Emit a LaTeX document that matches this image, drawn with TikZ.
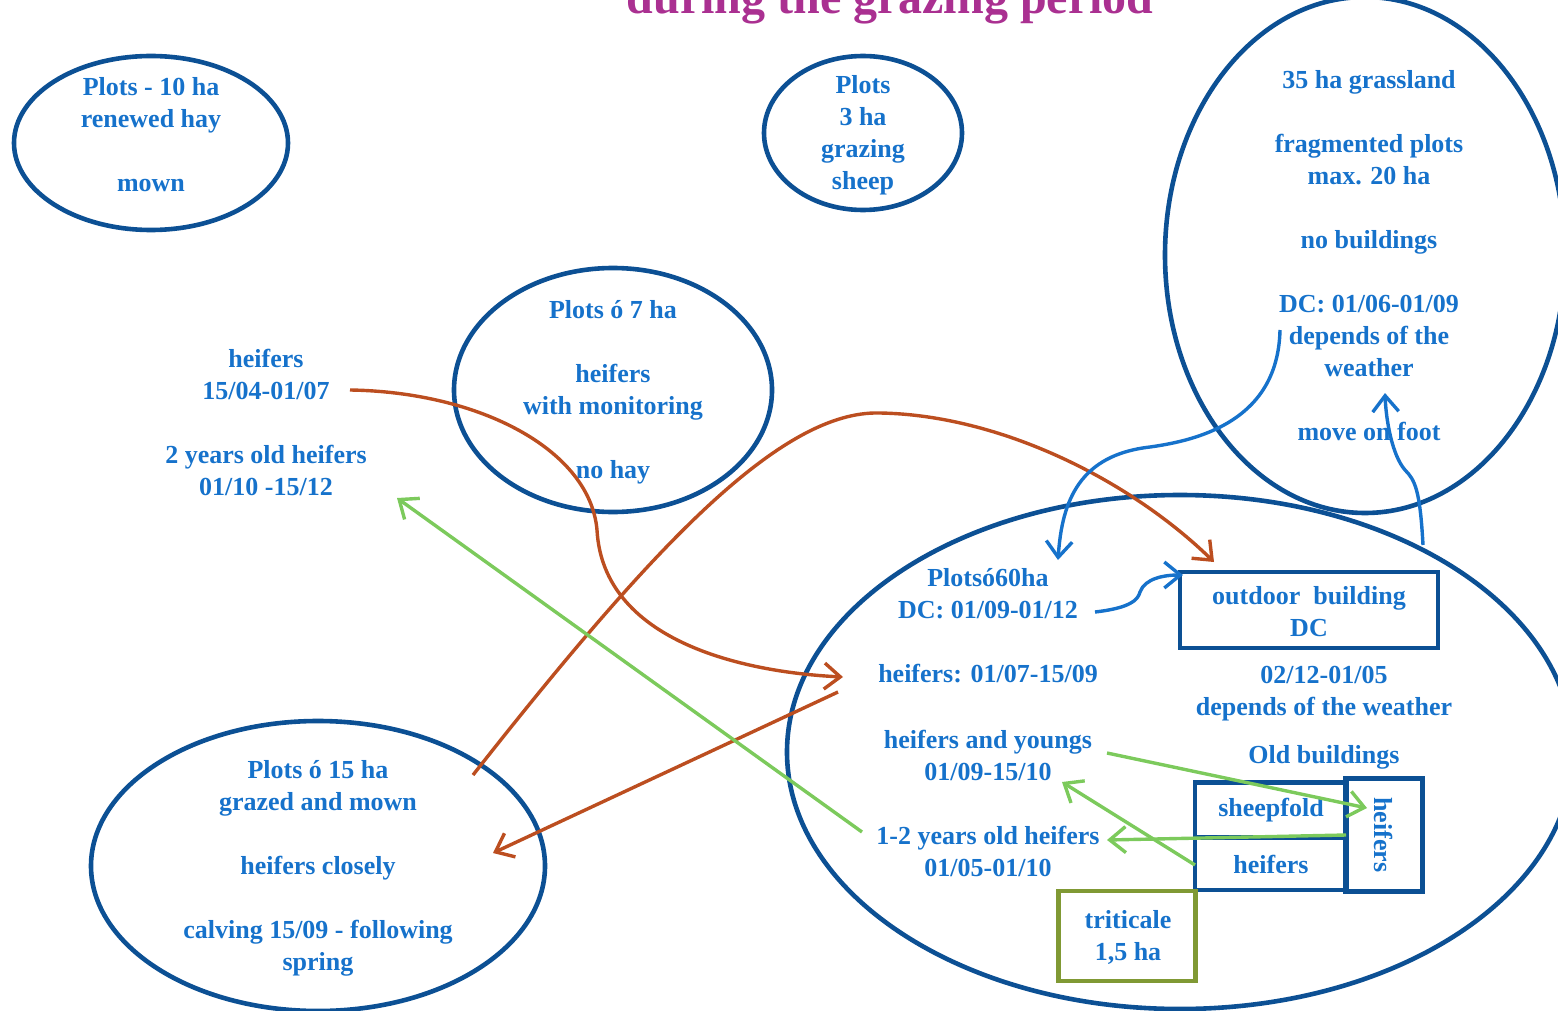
\documentclass[tikz,border=0pt]{standalone}
\usepackage{fontspec}
\setmainfont{Liberation Serif}
\usetikzlibrary{shapes.geometric,arrows.meta}
\definecolor{txtblue}{RGB}{22,114,203}
\definecolor{rimblue}{RGB}{12,80,148}
\definecolor{titlemag}{RGB}{170,48,145}
\definecolor{rust}{RGB}{188,78,32}
\definecolor{leaf}{RGB}{124,202,92}
\definecolor{olive}{RGB}{128,153,52}
\tikzstyle{plot} = [ellipse, draw=rimblue, line width=4.6pt, inner sep=0pt]
\tikzstyle{txt} = [text=txtblue, font=\fontsize{26}{32}\selectfont\bfseries, align=center, inner sep=0pt]
\tikzstyle{shed} = [rectangle, draw=rimblue, line width=4.6pt, inner sep=0pt]
\tikzstyle{line} = [draw, line width=3.4pt, -{Straight Barb[length=16pt,width=26pt]}]

\begin{document}
\begin{tikzpicture}[x=1pt, y=-1pt]
		\useasboundingbox (0,0) rectangle (1558,1011);
		\node [anchor=base, text=titlemag, font=\fontsize{48}{56}\selectfont\bfseries] (title) at (890,14) {during the grazing period};
		% plots
		\node [plot, minimum width=274pt, minimum height=174pt] (mown) at (151,143) {};
		\node [txt] (mowntxt) at (151,135) {Plots - 10 ha\\renewed hay\\[32pt]mown};
		\node [plot, minimum width=198pt, minimum height=154pt] (sheep) at (863,133) {};
		\node [txt] (sheeptxt) at (863,135) {Plots\\3 ha\\grazing\\sheep};
		\node [plot, minimum width=400pt, minimum height=516pt] (grass) at (1365,255) {};
		\node [txt] (grasstxt) at (1369,256) {35 ha grassland\\[32pt]fragmented plots\\max. 20 ha\\[32pt]no buildings\\[32pt]DC: 01/06-01/09\\depends of the\\weather\\[32pt]move on foot};
		\node [plot, minimum width=318pt, minimum height=244pt] (seven) at (613,390) {};
		\node [txt] (seventxt) at (613,392) {Plots ó 7 ha\\[32pt]heifers\\with monitoring\\[32pt]no hay};
		\node [txt] (heiferstxt) at (266,422) {heifers\\15/04-01/07\\[32pt]2 years old heifers\\01/10 -15/12};
		\node [plot, minimum width=454pt, minimum height=290pt] (fifteen) at (318,866) {};
		\node [txt] (fifteentxt) at (318,868) {Plots ó 15 ha\\grazed and mown\\[32pt]heifers closely\\[32pt]calving 15/09 - following\\spring};
		\node [plot, minimum width=786pt, minimum height=514pt] (sixty) at (1180,752) {};
		\node [txt] (sixtytxt) at (988,594) {Plotsó60ha\\DC: 01/09-01/12};
		\node [txt] (summer) at (988,674) {heifers: 01/07-15/09};
		\node [txt] (youngs) at (988,755) {heifers and youngs\\01/09-15/10};
		\node [txt] (yearlings) at (988,851) {1-2 years old heifers\\01/05-01/10};
		% buildings
		\node [shed, minimum width=258pt, minimum height=76pt] (outdoor) at (1309,610) {};
		\node [txt] (outdoortxt) at (1309,612) {outdoor\ \ building\\DC};
		\node [txt] (wintertxt) at (1324,694) {02/12-01/05\\depends of the weather};
		\node [txt] (oldtxt) at (1324,757) {Old buildings};
		\node [shed, minimum width=152pt, minimum height=55pt, label={[txt]center:sheepfold}] (sheepfold) at (1271,810) {};
		\node [shed, minimum width=152pt, minimum height=52pt, label={[txt]center:heifers}] (heiferbox) at (1271,864) {};
		\node [shed, minimum width=77pt, minimum height=113pt] (sidebox) at (1384,835) {};
		\node [txt, rotate=-90] (sidetxt) at (1384,835) {heifers};
		\node [shed, draw=olive, minimum width=137pt, minimum height=90pt] (triticale) at (1127,936) {};
		\node [txt] (triticaletxt) at (1128,937) {triticale\\1,5 ha};
		% end points
		\coordinate (hA) at (350,390);
		\coordinate (hB) at (843,677);
		\coordinate (fA) at (473,775);
		\coordinate (fB) at (1214,562);
		\coordinate (sA) at (838,692);
		\coordinate (sB) at (493,853);
		\coordinate (yA) at (862,832);
		\coordinate (yB) at (397,498);
		\coordinate (gA) at (1107,753);
		\coordinate (gB) at (1367,808);
		\coordinate (gC) at (1346,835);
		\coordinate (gD) at (1107,840);
		\coordinate (gE) at (1195,865);
		\coordinate (gF) at (1062,782);
		\coordinate (bA) at (1280,330);
		\coordinate (bB) at (1058,560);
		\coordinate (bC) at (1095,612);
		\coordinate (bD) at (1183,575);
		\coordinate (bE) at (1423,545);
		\coordinate (bF) at (1385,393);
		% moves
		\path [line, rust] (hA) .. controls (480,392) and (590,450) .. (597,530) .. controls (603,640) and (740,672) .. (hB);
		\path [line, rust] (fA) .. controls (650,550) and (780,410) .. (880,413) .. controls (1000,415) and (1130,480) .. (fB);
		\path [line, rust] (sA) -- (sB);
		\path [line, leaf] (yA) -- (yB);
		\path [line, leaf] (gA) -- (gB);
		\path [line, leaf] (gC) -- (gD);
		\path [line, leaf] (gE) -- (gF);
		\path [line, txtblue] (bA) .. controls (1278,420) and (1200,440) .. (1150,447) .. controls (1080,455) and (1062,500) .. (bB);
		\path [line, txtblue] (bC) .. controls (1130,608) and (1138,600) .. (1140,592) .. controls (1145,578) and (1165,575) .. (bD);
		\path [line, txtblue] (bE) .. controls (1420,490) and (1415,480) .. (1405,470) .. controls (1392,455) and (1386,420) .. (bF);
	\end{tikzpicture}
\end{document}
